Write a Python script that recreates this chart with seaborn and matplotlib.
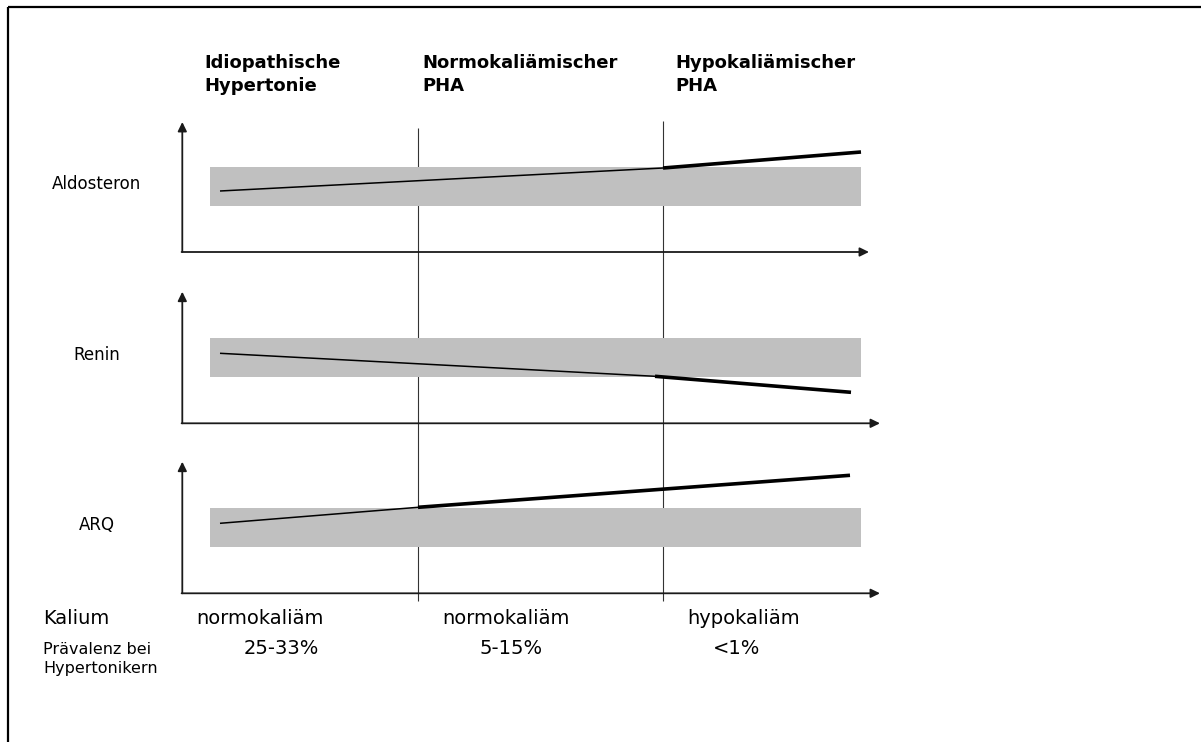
import matplotlib
matplotlib.use("Agg")
import matplotlib.pyplot as plt
import pandas as pd
import seaborn as sns

# column headers (patient groups) and the rows below the panels
groups = ["Idiopathische\nHypertonie", "Normokaliämischer\nPHA", "Hypokaliämischer\nPHA"]
kalium = ["normokaliäm", "normokaliäm", "hypokaliäm"]
praevalenz = ["25-33%", "5-15%", "<1%"]

# one small panel per lab parameter
params = ["Aldosteron", "Renin", "ARQ"]

# schematic course: x of start / knee / end, level above the x axis at those points
# thin line up to the knee, bold line after it
aldo_x = [220, 663, 861]
aldo_level = [61, 84, 100]
renin_x = [220, 655, 851]
renin_level = [70, 47, 31]
arq_x = [220, 418, 850]
arq_level = [70, 86, 118]

# normal range (level above the x axis), drawn as grey band
normal_low = 46
normal_high = 85

curve_x = [aldo_x, renin_x, arq_x]
curve_level = [aldo_level, renin_level, arq_level]

# layout in pixels of the 1201x742 canvas
W, H = 1201, 742
panel_base = [252, 423.3, 593.3]
axis_len = [130, 131.6, 131.6]
xaxis_end = [869, 880, 880]
yaxis_x = 182.3
band_x = (210, 861)
divider_x = [418.3, 663.4]
divider_top = [128, 120.7]
divider_bottom = 601
group_x = [204, 422, 675]
stage_x = [260, 506, 744]
praev_x = [281, 511, 737]

sns.set_theme(style="white")
plt.rcParams["font.family"] = ["DejaVu Sans"]
plt.rcParams["text.color"] = "black"

fig = plt.figure(figsize=(W / 100, H / 100), dpi=100)
ax = fig.add_axes([0, 0, 1, 1])

# frame (only top and left are visible in the crop)
ax.plot([8, W], [7, 7], color="black", lw=1.6, solid_capstyle="butt")
ax.plot([8, 8], [7, H], color="black", lw=1.6, solid_capstyle="butt")

# thin dividers between the groups
ax.vlines(divider_x, divider_top, divider_bottom, colors="#333333", lw=0.8, zorder=1)

arrow = dict(arrowstyle="-|>,head_length=0.45,head_width=0.22", color="#1a1a1a",
             lw=1.3, shrinkA=0, shrinkB=0, mutation_scale=12)

for i, name in enumerate(params):
    base = panel_base[i]
    ax.fill_between(band_x, base - normal_high, base - normal_low,
                    color="#c0c0c0", lw=0, zorder=2)

    xs, lv = curve_x[i], curve_level[i]
    df = pd.DataFrame({
        "x": [xs[0], xs[1], xs[1], xs[2]],
        "y": [base - lv[0], base - lv[1], base - lv[1], base - lv[2]],
        "seg": ["normal", "normal", "erhöht", "erhöht"],
    })
    sns.lineplot(data=df, x="x", y="y", size="seg",
                 sizes={"normal": 1.1, "erhöht": 2.6}, color="black",
                 estimator=None, sort=False, legend=False, ax=ax, zorder=4,
                 solid_capstyle="butt")

    # axes with arrow heads
    ax.annotate("", xy=(yaxis_x, base - axis_len[i]), xytext=(yaxis_x, base),
                arrowprops=arrow, zorder=5)
    ax.annotate("", xy=(xaxis_end[i], base), xytext=(yaxis_x - 0.7, base),
                arrowprops=arrow, zorder=5)

    ax.text(97, base - 68, name, ha="center", va="center", fontsize=12,
            color="black")

# group headers
for gx, label in zip(group_x, groups):
    for j, line in enumerate(label.split("\n")):
        ax.text(gx, 68 + j * 23, line, ha="left", va="baseline",
                fontsize=13, fontweight="bold", color="black")

# rows under the panels
ax.text(43, 624.5, "Kalium", ha="left", va="baseline", fontsize=14, color="black")
for sx, s in zip(stage_x, kalium):
    ax.text(sx, 624.5, s, ha="center", va="baseline", fontsize=14, color="black")

ax.text(43, 654.5, "Prävalenz bei", ha="left", va="baseline", fontsize=11.5,
        color="black")
ax.text(43, 672.5, "Hypertonikern", ha="left", va="baseline", fontsize=11.5,
        color="black")
for px, p in zip(praev_x, praevalenz):
    ax.text(px, 654.5, p, ha="center", va="baseline", fontsize=14, color="black")

ax.set_xlim(0, W)
ax.set_ylim(H, 0)
ax.axis("off")

fig.savefig("out.png", dpi=100)
